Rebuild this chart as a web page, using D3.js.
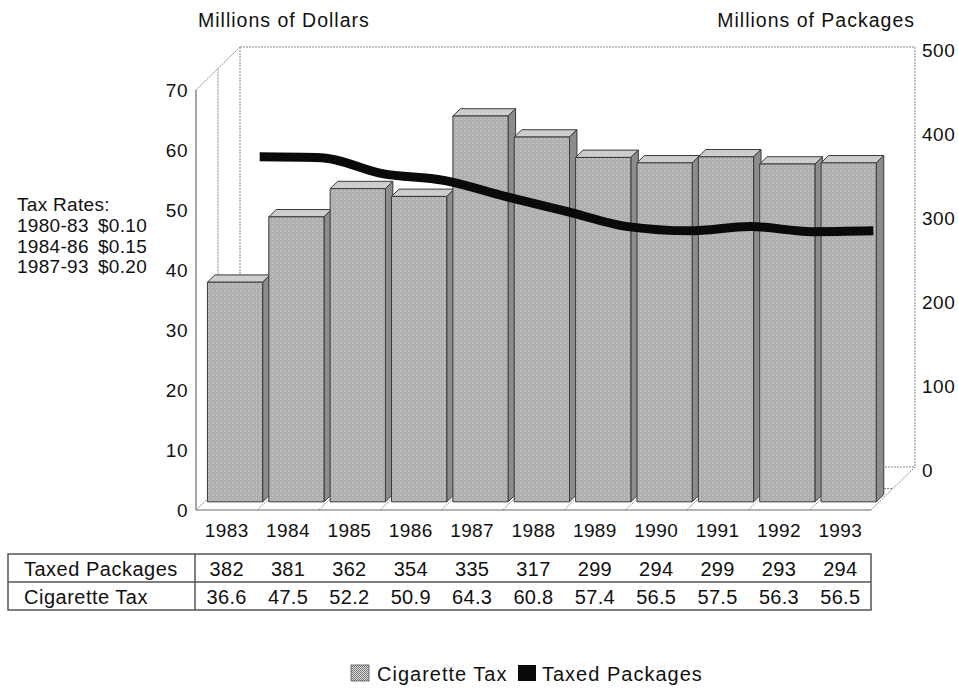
<!DOCTYPE html>
<meta charset="utf-8">
<title>Cigarette tax and taxed packages</title>
<style>
  body { margin: 0; background: #fff; }
  text { font-family: "Liberation Sans", Arial, Helvetica, sans-serif; fill: #111; }
  .wall { fill: none; stroke: #8a8a8a; stroke-width: 1; stroke-dasharray: 2,1; }
  .edge { fill: none; stroke: #6a6a6a; stroke-width: 1.2; }
  .bar { stroke: #3a3a3a; stroke-width: 1; stroke-linejoin: round; }
  .tbl { fill: none; stroke: #555; stroke-width: 1.5; }
</style>
<body>
<script src="https://cdn.jsdelivr.net/npm/d3@7"></script>
<script>

var width = 958,
    height = 690;

// data
var years = ["1983", "1984", "1985", "1986", "1987", "1988", "1989", "1990", "1991", "1992", "1993"];
var taxedPackages = [382, 381, 362, 354, 335, 317, 299, 294, 299, 293, 294];
var cigaretteTax = [36.6, 47.5, 52.2, 50.9, 64.3, 60.8, 57.4, 56.5, 57.5, 56.3, 56.5];
var leftTicks = [0, 10, 20, 30, 40, 50, 60, 70];
var rightTicks = [0, 100, 200, 300, 400, 500];
var taxRates = [["1980-83", "$0.10"], ["1984-86", "$0.15"], ["1987-93", "$0.20"]];

// 3d box: front plane + depth vector
var x0 = 196, x1 = 871, floorY = 510, topY = 90;
var DX = 44, DY = -43;
function proj(x, y, d) { return [x + d * DX, y + d * DY]; }

var x = d3.scaleBand().domain(years).range([x0, x1]).paddingInner(0.1).paddingOuter(0.05);
var yL = d3.scaleLinear().domain([0, 70]).range([floorY, topY]);
var yR = d3.scaleLinear().domain([0, 500]).range([floorY, topY]);

var svg = d3.select("body").append("svg")
    .attr("width", width)
    .attr("height", height);

// textures
var defs = svg.append("defs");
var pat = defs.append("pattern").attr("id", "grain")
    .attr("width", 4).attr("height", 4).attr("patternUnits", "userSpaceOnUse");
pat.append("rect").attr("width", 4).attr("height", 4).attr("fill", "#b4b4b4");
pat.append("rect").attr("x", 1).attr("y", 0).attr("width", 1).attr("height", 1).attr("fill", "#9c9c9c");
pat.append("rect").attr("x", 3).attr("y", 2).attr("width", 1).attr("height", 1).attr("fill", "#a2a2a2");
pat.append("rect").attr("x", 0).attr("y", 3).attr("width", 1).attr("height", 1).attr("fill", "#c6c6c6");

var dith = defs.append("pattern").attr("id", "dither")
    .attr("width", 2).attr("height", 2).attr("patternUnits", "userSpaceOnUse");
dith.append("rect").attr("width", 2).attr("height", 2).attr("fill", "#e0e0e0");
dith.append("rect").attr("width", 1).attr("height", 1).attr("fill", "#777");
dith.append("rect").attr("x", 1).attr("y", 1).attr("width", 1).attr("height", 1).attr("fill", "#777");

var line = d3.line();

// walls
var g = svg.append("g");
function seg(a, b, cls) {
  g.append("path").attr("class", cls).attr("d", line([a, b]));
}
// back wall
seg(proj(x0, topY, 1), proj(x1, topY, 1), "wall");
seg(proj(x1, topY, 1), proj(x1, floorY, 1), "wall");
seg(proj(x0, topY, 1), proj(x0, floorY, 1), "wall");
seg(proj(x0, floorY, 1), proj(x1, floorY, 1), "wall");
// left wall
seg(proj(x0, topY, 0), proj(x0, topY, 1), "wall");
seg(proj(x0, topY, 0.5), proj(x0, floorY, 0.5), "wall");
seg(proj(x0, floorY, 0), proj(x0, floorY, 1), "wall");
// floor
seg(proj(x0, floorY, 0.5), proj(x1, floorY, 0.5), "wall");
seg(proj(x1, floorY, 0), proj(x1, floorY, 1), "wall");
x.domain().forEach(function(yr, i) {
  if (i == 0) return;
  var bx = x(yr) - x.step() * x.paddingInner() / 2;
  seg(proj(bx, floorY, 0), proj(bx, floorY, 0.5), "wall");
});
seg([x0, topY], [x0, floorY], "edge");
seg([x0, floorY], [x1, floorY], "edge");

// bars
var d0 = 0.19, d1 = 0.36;
var bars = svg.append("g").selectAll("g")
    .data(years)
    .enter().append("g");

bars.append("path").attr("class", "bar")
    .attr("fill", "#cdcdcd")
    .attr("d", function(yr, i) {
      var a = x(yr), b = a + x.bandwidth(), t = yL(cigaretteTax[i]);
      return line([proj(a, t, d0), proj(b, t, d0), proj(b, t, d1), proj(a, t, d1)]) + "Z";
    });
bars.append("path").attr("class", "bar")
    .attr("fill", "#8c8c8c")
    .attr("d", function(yr, i) {
      var b = x(yr) + x.bandwidth(), t = yL(cigaretteTax[i]);
      return line([proj(b, t, d0), proj(b, floorY, d0), proj(b, floorY, d1), proj(b, t, d1)]) + "Z";
    });
bars.append("path").attr("class", "bar")
    .attr("fill", "url(#grain)")
    .attr("d", function(yr, i) {
      var a = x(yr), b = a + x.bandwidth(), t = yL(cigaretteTax[i]);
      return line([proj(a, t, d0), proj(b, t, d0), proj(b, floorY, d0), proj(a, floorY, d0)]) + "Z";
    });

// packages line (back row)
var dl = 0.75;
svg.append("path")
    .datum(years)
    .attr("fill", "none")
    .attr("stroke", "#0a0a0a")
    .attr("stroke-width", 9)
    .attr("d", d3.line()
      .curve(d3.curveMonotoneX)
      .x(function(yr) { return x(yr) + x.bandwidth() / 2 + dl * DX; })
      .y(function(yr, i) { return yR(taxedPackages[i]) + dl * DY; }));

// axes labels
svg.append("g").selectAll("text")
    .data(leftTicks)
    .enter().append("text")
    .attr("x", 188)
    .attr("y", function(d) { return yL(d) + 7; })
    .attr("text-anchor", "end")
    .style("font-size", "19px")
    .style("letter-spacing", "0.5px")
    .text(function(d) { return d; });

svg.append("g").selectAll("text")
    .data(rightTicks)
    .enter().append("text")
    .attr("x", 922)
    .attr("y", function(d) { return yR(d) + DY + 10; })
    .style("font-size", "19px")
    .style("letter-spacing", "0.5px")
    .text(function(d) { return d; });

svg.append("g").selectAll("text")
    .data(years)
    .enter().append("text")
    .attr("x", function(d) { return x(d) + x.bandwidth() / 2; })
    .attr("y", 537)
    .attr("text-anchor", "middle")
    .style("font-size", "19px")
    .style("letter-spacing", "0.4px")
    .text(function(d) { return d; });

svg.append("text").attr("x", 198).attr("y", 27)
    .style("font-size", "19.5px").style("letter-spacing", "1px").text("Millions of Dollars");
svg.append("text").attr("x", 915).attr("y", 27).attr("text-anchor", "end")
    .style("font-size", "19.5px").style("letter-spacing", "1px").text("Millions of Packages");

// tax rates note
var note = svg.append("g").style("font-size", "19px").style("letter-spacing", "0.3px");
note.append("text").attr("x", 17).attr("y", 211).text("Tax Rates:");
taxRates.forEach(function(r, i) {
  note.append("text").attr("x", 17).attr("y", 232 + i * 20.7).text(r[0]);
  note.append("text").attr("x", 98).attr("y", 232 + i * 20.7).text(r[1]);
});

// data table
var tY0 = 554, tY1 = 582, tY2 = 610, tX = 8, tSplit = 195;
var tbl = svg.append("g");
tbl.append("rect").attr("class", "tbl").attr("x", tX).attr("y", tY0).attr("width", x1 - tX).attr("height", tY2 - tY0);
tbl.append("line").attr("class", "tbl").attr("x1", tX).attr("x2", x1).attr("y1", tY1).attr("y2", tY1);
tbl.append("line").attr("class", "tbl").attr("x1", tSplit).attr("x2", tSplit).attr("y1", tY0).attr("y2", tY2);

var rows = [["Taxed Packages", taxedPackages, function(v) { return v; }],
            ["Cigarette Tax", cigaretteTax, d3.format(".1f")]];
rows.forEach(function(r, i) {
  var base = (i == 0 ? tY1 : tY2) - 6;
  tbl.append("text").attr("x", 24).attr("y", base)
      .style("font-size", "20px").style("letter-spacing", "0.5px").text(r[0]);
  tbl.selectAll(".v" + i)
      .data(r[1])
      .enter().append("text")
      .attr("class", "v" + i)
      .attr("x", function(d, j) { return x(years[j]) + x.bandwidth() / 2; })
      .attr("y", base)
      .attr("text-anchor", "middle")
      .style("font-size", "20px")
      .style("letter-spacing", "0.3px")
      .text(r[2]);
});

// legend
var leg = svg.append("g").style("font-size", "20px").style("letter-spacing", "1px");
leg.append("rect").attr("x", 351).attr("y", 665).attr("width", 18).attr("height", 16)
    .attr("fill", "url(#dither)").attr("stroke", "#555").attr("stroke-width", 0.8);
leg.append("text").attr("x", 377).attr("y", 681).text("Cigarette Tax");
leg.append("rect").attr("x", 518).attr("y", 665).attr("width", 18).attr("height", 16).attr("fill", "#0a0a0a");
leg.append("text").attr("x", 542).attr("y", 681).text("Taxed Packages");

</script>
</body>
